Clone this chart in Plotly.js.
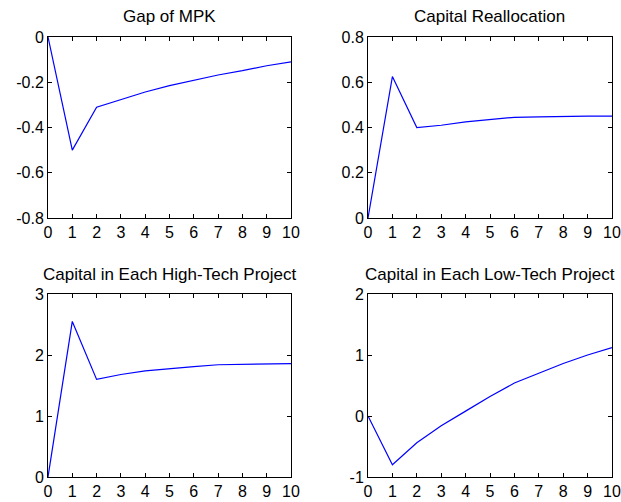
<!DOCTYPE html>
<html>
<head>
<meta charset="utf-8">
<script src="https://cdn.plot.ly/plotly-3.0.1.min.js"></script>
<style>html,body{margin:0;padding:0;background:#fff;}#chart{width:621px;height:502px;}</style>
</head>
<body>
<div id="chart"></div>
<script>
var periods = [0,1,2,3,4,5,6,7,8,9,10];
var gapMPK = [0,-0.50,-0.31,-0.275,-0.243,-0.215,-0.19,-0.168,-0.149,-0.127,-0.11];
var capitalReallocation = [0,0.625,0.40,0.41,0.425,0.435,0.445,0.447,0.45,0.45,0.45];
var highTechCapital = [0,2.55,1.60,1.68,1.74,1.78,1.81,1.84,1.85,1.86,1.86];
var lowTechCapital = [0,-0.80,-0.44,-0.16,0.08,0.32,0.54,0.70,0.86,1.0,1.12];
var titles = ["Gap of MPK","Capital Reallocation","Capital in Each High-Tech Project","Capital in Each Low-Tech Project"];
var xTicks = [0,1,2,3,4,5,6,7,8,9,10];
var yTicks1 = [0,-0.2,-0.4,-0.6,-0.8];
var yTickText1 = ["0","-0.2","-0.4","-0.6","-0.8"];
var yTicks2 = [0,0.2,0.4,0.6,0.8];
var yTickText2 = ["0","0.2","0.4","0.6","0.8"];
var yTicks3 = [0,1,2,3];
var yTickText3 = ["0","1","2","3"];
var yTicks4 = [-1,0,1,2];
var yTickText4 = ["-1","0","1","2"];

var font = {family:"Liberation Sans, Arial, sans-serif", size:16, color:"#000"};
function line(y, xa, ya){
  return {x:periods, y:y, xaxis:xa, yaxis:ya, type:"scatter", mode:"lines",
          line:{color:"rgb(0,0,255)", width:1.2}, showlegend:false, hoverinfo:"none"};
}
function xax(dom, anchor){
  return {domain:dom, anchor:anchor, range:[0,10], tickvals:xTicks, ticktext:xTicks.map(String),
          showline:true, linecolor:"#000", linewidth:1, mirror:"ticks", ticks:"inside",
          ticklen:4, tickcolor:"#000", showgrid:false, zeroline:false, tickfont:font, fixedrange:true};
}
function yax(dom, anchor, rng, tv, tt){
  return {domain:dom, anchor:anchor, range:rng, tickvals:tv, ticktext:tt,
          showline:true, linecolor:"#000", linewidth:1, mirror:"ticks", ticks:"inside",
          ticklen:4, tickcolor:"#000", showgrid:false, zeroline:false, tickfont:font, fixedrange:true};
}
var xL=[48/621,291/621], xR=[368/621,612/621];
var yT=[1-218/502,1-37/502], yB=[1-477/502,1-294/502];
var data = [line(gapMPK,"x","y"), line(capitalReallocation,"x2","y2"),
            line(highTechCapital,"x3","y3"), line(lowTechCapital,"x4","y4")];
var tfont = {family:"Liberation Sans, Arial, sans-serif", size:17, color:"#000"};
var layout = {
  width:621, height:502, margin:{l:0,r:0,t:0,b:0},
  paper_bgcolor:"#fff", plot_bgcolor:"#fff", showlegend:false,
  xaxis:xax(xL,"y"), yaxis:yax(yT,"x",[-0.8,0],yTicks1,yTickText1),
  xaxis2:xax(xR,"y2"), yaxis2:yax(yT,"x2",[0,0.8],yTicks2,yTickText2),
  xaxis3:xax(xL,"y3"), yaxis3:yax(yB,"x3",[0,3],yTicks3,yTickText3),
  xaxis4:xax(xR,"y4"), yaxis4:yax(yB,"x4",[-1,2],yTicks4,yTickText4),
  annotations:[
    {text:titles[0], x:(xL[0]+xL[1])/2, y:1-17/502, xref:"paper", yref:"paper", showarrow:false, font:tfont, xanchor:"center", yanchor:"middle"},
    {text:titles[1], x:(xR[0]+xR[1])/2, y:1-17/502, xref:"paper", yref:"paper", showarrow:false, font:tfont, xanchor:"center", yanchor:"middle"},
    {text:titles[2], x:(xL[0]+xL[1])/2, y:1-274/502, xref:"paper", yref:"paper", showarrow:false, font:tfont, xanchor:"center", yanchor:"middle"},
    {text:titles[3], x:(xR[0]+xR[1])/2, y:1-274/502, xref:"paper", yref:"paper", showarrow:false, font:tfont, xanchor:"center", yanchor:"middle"}
  ]
};
Plotly.newPlot("chart", data, layout, {staticPlot:true, displayModeBar:false});
</script>
</body>
</html>
